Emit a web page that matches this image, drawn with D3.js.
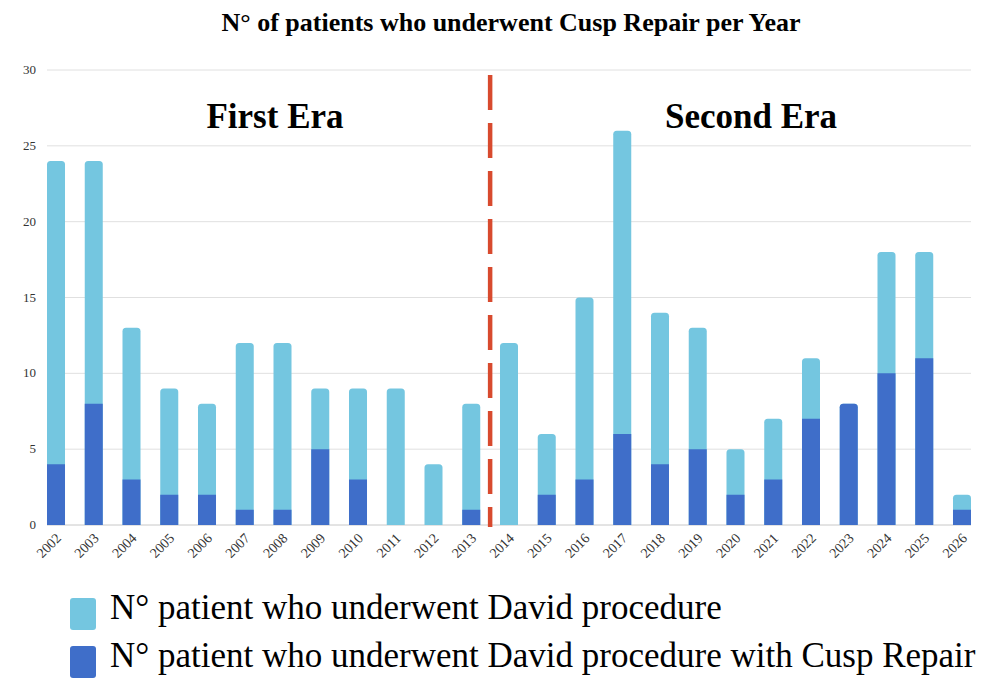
<html>
<head>
<script src="https://d3js.org/d3.v7.min.js"></script>
<style>
body { margin: 0; background: #fff; }
svg { display: block; }
text { font-family: "Liberation Serif", "Times New Roman", "DejaVu Serif", serif; }
</style>
</head>
<body>
<svg id="chart" width="999" height="680"></svg>
<script>
// data
var years = ["2002","2003","2004","2005","2006","2007","2008","2009","2010","2011","2012","2013",
             "2014","2015","2016","2017","2018","2019","2020","2021","2022","2023","2024","2025","2026"];
var totalDavid = [24,24,13,9,8,12,12,9,9,9,4,8,12,6,15,26,14,13,5,7,11,8,18,18,2];
var cuspRepair = [4,8,3,2,2,1,1,5,3,0,0,1,0,2,3,6,4,5,2,3,7,8,10,11,1];
var yTicks = [0,5,10,15,20,25,30];
var legendLabels = ["N° patient who underwent David procedure",
                    "N° patient who underwent David procedure with Cusp Repair"];

var light = "#74c6e0", dark = "#3f6ec9";
var svg = d3.select("#chart");

var x = d3.scaleBand().domain(years).range([47, 971]).paddingInner(0.523).paddingOuter(0);
var y = d3.scaleLinear().domain([0, 30]).range([525, 70]);

// grid
svg.selectAll("line.grid").data(yTicks).enter().append("line")
  .attr("class", "grid")
  .attr("x1", 47).attr("x2", 971)
  .attr("y1", function (d) { return y(d); }).attr("y2", function (d) { return y(d); })
  .attr("stroke", function (d) { return d == 0 ? "#c8c8c8" : "#e0e0e0"; })
  .attr("stroke-width", 1);

svg.selectAll("text.ytick").data(yTicks).enter().append("text")
  .attr("class", "ytick")
  .attr("x", 36).attr("y", function (d) { return y(d) + 4; })
  .attr("text-anchor", "end")
  .style("font-size", "13px").style("fill", "#333")
  .text(function (d) { return d; });

// bar with rounded top
function topRounded(x0, w, yTop, yBot, r) {
  r = Math.min(r, yBot - yTop);
  return "M" + x0 + "," + yBot + "V" + (yTop + r) +
    "Q" + x0 + "," + yTop + " " + (x0 + r) + "," + yTop +
    "H" + (x0 + w - r) + "Q" + (x0 + w) + "," + yTop + " " + (x0 + w) + "," + (yTop + r) +
    "V" + yBot + "Z";
}

var rows = years.map(function (yr, i) { return { year: yr, total: totalDavid[i], repair: cuspRepair[i] }; });

svg.selectAll("path.total").data(rows).enter().append("path")
  .attr("class", "total")
  .attr("fill", light)
  .attr("d", function (d) { return topRounded(x(d.year), x.bandwidth(), y(d.total), y(0), 3.5); });

svg.selectAll("path.repair").data(rows.filter(function (d) { return d.repair > 0; })).enter().append("path")
  .attr("class", "repair")
  .attr("fill", dark)
  .attr("d", function (d) {
    var r = d.repair >= d.total ? 3.5 : 0;
    return topRounded(x(d.year), x.bandwidth(), y(d.repair), y(0), r);
  });

// x labels
svg.selectAll("text.xtick").data(years).enter().append("text")
  .attr("class", "xtick")
  .attr("transform", function (d) { return "translate(" + (x(d) + x.bandwidth() / 2 + 6) + ",539) rotate(-45)"; })
  .attr("text-anchor", "end")
  .style("font-size", "14px").style("fill", "#333")
  .text(function (d) { return d; });

// era divider
var divX = (x("2013") + x.bandwidth() + x("2014")) / 2;
svg.append("line")
  .attr("x1", divX).attr("x2", divX).attr("y1", 75).attr("y2", 527)
  .attr("stroke", "#d84a2e").attr("stroke-width", 4.5)
  .attr("stroke-dasharray", "35,13");

// titles
svg.append("text").attr("x", 511).attr("y", 31).attr("text-anchor", "middle")
  .style("font-weight", "bold").style("font-size", "26px")
  .text("N° of patients who underwent Cusp Repair per Year");

svg.append("text").attr("x", 275).attr("y", 128).attr("text-anchor", "middle")
  .style("font-weight", "bold").style("font-size", "35px")
  .text("First Era");
svg.append("text").attr("x", 751).attr("y", 128).attr("text-anchor", "middle")
  .style("font-weight", "bold").style("font-size", "35px")
  .text("Second Era");

// legend
var legend = svg.selectAll("g.legend").data(legendLabels).enter().append("g")
  .attr("class", "legend")
  .attr("transform", function (d, i) { return "translate(70," + (598 + i * 48) + ")"; });
legend.append("rect").attr("width", 26).attr("height", 32).attr("rx", 3)
  .attr("fill", function (d, i) { return i == 0 ? light : dark; });
legend.append("text").attr("x", 40).attr("y", 21)
  .style("font-size", "35px").style("fill", "#000")
  .text(function (d) { return d; });
</script>
</body>
</html>
